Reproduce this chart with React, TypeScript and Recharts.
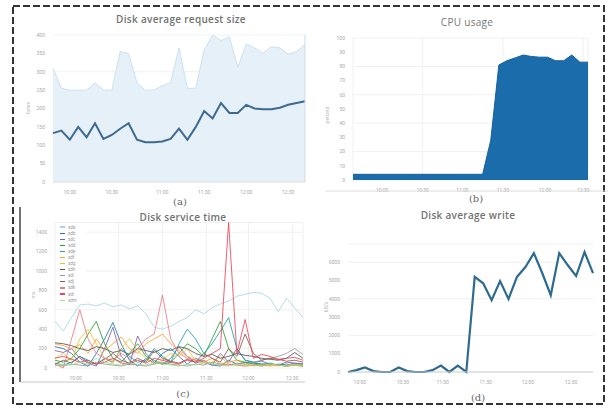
import React from 'react';
import { ComposedChart, AreaChart, LineChart, Area, Line, XAxis, YAxis, CartesianGrid, Legend } from 'recharts';

// ---------- (a) Disk average request size ----------
const aUpper = [310,255,250,250,250,270,250,250,355,350,270,250,250,262,270,365,255,255,360,400,385,395,312,375,365,350,368,365,348,355,375];
const aAvg = [133,140,115,150,122,160,117,128,145,160,115,108,108,110,117,145,115,150,193,173,215,188,188,210,200,198,198,202,210,215,220];
const aYTicks = [0,50,100,150,200,250,300,350,400];
const aXTicks = [2,7,13,18,23,28];
const aXLabels = ['10:00','10:30','11:00','11:30','12:00','12:30'];

// ---------- (b) CPU usage ----------
const cpu = [4,4,4,4,4,4,4,4,4,4,4,4,4,4,4,4,4,28,81,84,86,88,87,86.5,86.5,84,84,88,83,83];
const bYTicks = [0,10,20,30,40,50,60,70,80,90,100];
const bXTicks = [3.6,8.6,13.5,18.5,23.7,28.4];
const bXLabels = ['10:00','10:30','11:00','11:30','12:00','12:30'];

// ---------- (c) Disk service time ----------
const cNames = ['sda','sdb','sdc','sdd','sde','sdf','sdg','sdh','sdi','sdj','sdk','sdl','sdm'];
const cColors = ['#a9d4e6','#1f77b4','#7b5fb5','#2ca02c','#17a2a8','#ff9f2e','#e6c43a','#555555','#9a9a9a','#8c564b','#ec7a84','#ee4458','#98df8a'];
const cLightCyan = [480,380,520,650,660,640,670,630,650,610,640,560,420,400,430,480,520,600,560,620,660,690,740,760,780,770,720,580,720,620,520];
const cBlue = [220,200,150,60,20,150,300,470,250,80,20,100,50,150,200,120,40,100,60,30,20,80,40,60,50,40,30,40,30,50,40];
const cPurple = [180,160,200,100,50,20,200,420,120,30,330,150,60,40,100,220,120,50,80,30,150,60,200,80,60,70,40,30,60,50,40];
const cGreen = [80,60,100,200,350,480,250,100,60,150,250,120,80,40,60,150,250,200,120,300,480,200,80,60,40,30,40,30,20,30,20];
const cTeal = [50,30,60,120,80,40,100,60,200,120,60,80,200,120,60,250,400,300,150,250,380,520,200,80,60,40,50,30,40,30,40];
const cOrange = [250,230,200,240,150,300,180,250,320,200,150,250,300,350,250,180,120,80,60,100,40,60,80,40,30,30,20,30,20,30,20];
const cYellow = [100,150,80,300,400,250,100,50,200,300,180,100,40,80,150,120,200,80,40,60,120,40,30,20,30,20,30,20,30,40,30];
const cDarkGray = [260,250,230,200,180,220,200,160,180,140,200,180,160,200,180,220,200,150,120,140,100,120,150,130,120,100,90,80,100,160,100];
const cLightGray = [30,20,40,30,20,60,40,30,20,40,30,20,40,60,40,30,20,40,30,60,40,30,50,40,60,80,100,120,150,200,140];
const cBrown = [40,80,50,120,60,40,90,150,80,50,100,60,180,100,70,50,90,60,150,100,60,200,120,350,150,80,100,90,70,80,60];
const cSalmon = [40,0,300,600,300,150,100,80,150,100,200,300,350,750,300,150,100,80,60,40,30,40,30,20,30,20,40,30,20,30,20];
const cRed = [100,120,90,60,80,40,60,100,50,40,80,50,100,80,60,40,80,60,100,150,200,1500,150,500,100,140,120,90,100,110,80];
const cLightGreen = [20,40,30,60,40,100,60,40,30,50,40,30,60,40,30,20,40,30,60,40,30,20,40,30,20,30,40,30,20,30,20];
const cSeries = [cLightCyan,cBlue,cPurple,cGreen,cTeal,cOrange,cYellow,cDarkGray,cLightGray,cBrown,cSalmon,cRed,cLightGreen];
const cYTicks = [0,200,400,600,800,1000,1200,1400];
const cXTicks = [2.5,7.7,13,18.3,23.4,28.7];
const cXLabels = ['10:00','10:30','11:00','11:30','12:00','12:30'];

// ---------- (d) Disk average write ----------
const dWrite = [0,100,250,50,0,0,250,50,0,0,100,350,0,350,0,5200,4850,3930,4970,3990,5200,5740,6500,5400,4200,6500,5850,5250,6560,5410];
const dYTicks = [0,1000,2000,3000,4000,5000,6000];
const dXTicks = [1.4,6.5,11.2,16.3,21.3,26.4];
const dXLabels = ['10:00','10:30','11:00','11:30','12:00','12:30'];

const aData = aUpper.map((u, i) => ({ i, upper: u, avg: aAvg[i] }));
const bData = cpu.map((v, i) => ({ i, cpu: v }));
const cData = cLightCyan.map((_, i) => {
  const row: Record<string, number> = { i };
  cNames.forEach((n, k) => { row[n] = cSeries[k][i]; });
  return row;
});
const dData = dWrite.map((v, i) => ({ i, w: v }));

const tickStyle = { fontSize: 5, fill: '#aaa', fontFamily: 'Roboto, sans-serif' };
const fmt = (ticks: number[], labels: string[]) => (v: number) => {
  const k = ticks.indexOf(v);
  return k >= 0 ? labels[k] : '';
};

const titleStyle: React.CSSProperties = {
  fontFamily: '"Open Sans", sans-serif', fontSize: 10, fontWeight: 600, fill: '#727272', letterSpacing: 0.3,
};
const capStyle: React.CSSProperties = { fontFamily: '"DejaVu Serif", serif', fontSize: 10, fill: '#666' };

function LegendBox(props: any) {
  const payload = props.payload || [];
  return (
    <div style={{ width: 29, background: 'rgba(255,255,255,0.85)', padding: '1px 0' }}>
      {payload.map((p: any) => (
        <div key={p.value} style={{ display: 'flex', alignItems: 'center', height: 6.1 }}>
          <span style={{ display: 'inline-block', width: 5, height: 1.2, background: p.color, marginLeft: 2, marginRight: 3 }} />
          <span style={{ fontSize: 4.5, lineHeight: '5px', color: '#999', fontFamily: 'Roboto, sans-serif' }}>{p.value}</span>
        </div>
      ))}
    </div>
  );
}

export default function App() {
  return (
    <div style={{ position: 'absolute', left: 0, top: 0, width: 608, height: 410, background: '#fff', overflow: 'hidden' }}>
      {/* (a) */}
      <div style={{ position: 'absolute', left: 20, top: 25 }}>
        <ComposedChart width={290} height={172} data={aData} margin={{ top: 10, right: 5, bottom: 3, left: 11 }}>
          <CartesianGrid stroke="#eef2f5" vertical={false} />
          <XAxis dataKey="i" type="number" domain={[0, 30]} ticks={aXTicks} tickFormatter={fmt(aXTicks, aXLabels)}
            tick={tickStyle} tickLine={false} axisLine={{ stroke: '#e0e0e0' }} height={12} />
          <YAxis domain={[0, 400]} ticks={aYTicks} width={22} tick={tickStyle} tickLine={false} axisLine={false} />
          <Area dataKey="upper" type="linear" stroke="#cde1f1" strokeWidth={1} fill="#e5f0f9" fillOpacity={1} isAnimationActive={false} />
          <Line dataKey="avg" type="linear" stroke="#3f6a90" strokeWidth={2} dot={false} isAnimationActive={false} />
        </ComposedChart>
      </div>

      {/* (b) */}
      <div style={{ position: 'absolute', left: 320, top: 28 }}>
        <AreaChart width={275} height={165} data={bData} margin={{ top: 10, right: 7, bottom: 1, left: 11 }}>
          <CartesianGrid stroke="#f0f0f0" />
          <XAxis dataKey="i" type="number" domain={[0, 29]} ticks={bXTicks} tickFormatter={fmt(bXTicks, bXLabels)}
            tick={tickStyle} tickLine={false} axisLine={false} height={12} />
          <YAxis domain={[0, 100]} ticks={bYTicks} width={22} tick={tickStyle} tickLine={false} axisLine={false} />
          <Area dataKey="cpu" type="linear" stroke="#175f98" strokeWidth={1} fill="#1b6cab" fillOpacity={1} isAnimationActive={false} />
        </AreaChart>
      </div>

      {/* (c) */}
      <div style={{ position: 'absolute', left: 20, top: 212 }}>
        <LineChart width={290} height={170} data={cData} margin={{ top: 10.5, right: 7, bottom: 2, left: 13 }}>
          <CartesianGrid stroke="#f0f0f0" />
          <XAxis dataKey="i" type="number" domain={[0, 30]} ticks={cXTicks} tickFormatter={fmt(cXTicks, cXLabels)}
            tick={tickStyle} tickLine={false} axisLine={false} height={12} />
          <YAxis domain={[0, 1500]} ticks={cYTicks} width={22} tick={tickStyle} tickLine={false} axisLine={false} />
          {cNames.map((n, k) => (
            <Line key={n} dataKey={n} type="linear" stroke={cColors[k]} strokeWidth={1} strokeOpacity={0.85} dot={false} isAnimationActive={false} />
          ))}
          <Legend layout="vertical" align="center" verticalAlign="middle"
            wrapperStyle={{ left: 38, top: 11, width: 30, height: 84 }} content={(p: any) => <LegendBox payload={p.payload} />} />
        </LineChart>
      </div>

      {/* (d) */}
      <div style={{ position: 'absolute', left: 315, top: 232 }}>
        <LineChart width={285} height={160} data={dData} margin={{ top: 12, right: 7, bottom: 8, left: 11 }}>
          <CartesianGrid stroke="#f0f0f0" vertical={false} />
          <XAxis dataKey="i" type="number" domain={[0, 29]} ticks={dXTicks} tickFormatter={fmt(dXTicks, dXLabels)}
            tick={tickStyle} tickLine={false} axisLine={{ stroke: '#cfcfcf' }} height={12} />
          <YAxis domain={[0, 7000]} ticks={dYTicks} width={22} tick={tickStyle} tickLine={false} axisLine={false} />
          <Line dataKey="w" type="linear" stroke="#2f6b8f" strokeWidth={2.2} dot={false} isAnimationActive={false} />
        </LineChart>
      </div>

      {/* overlay: frame, titles, captions */}
      <svg width={608} height={410} style={{ position: 'absolute', left: 0, top: 0, pointerEvents: 'none' }}>
        <rect x={13} y={6} width={591} height={398} fill="none" stroke="#333" strokeWidth={2} strokeDasharray="7 3" />
        <line x1={20} y1={207} x2={20} y2={382} stroke="#444" strokeWidth={1.5} />
        <line x1={20} y1={382} x2={305} y2={382} stroke="#c8c8c8" strokeWidth={1} />
        <line x1={325} y1={191} x2={608} y2={191} stroke="#dcdcdc" strokeWidth={1} />
        <line x1={305} y1={35} x2={305} y2={182} stroke="#cfdbe6" strokeWidth={1} />

        <text x={181} y={23} textAnchor="middle" style={titleStyle}>Disk average request size</text>
        <text x={467} y={26} textAnchor="middle" style={{ ...titleStyle, fontWeight: 400, fill: '#777' }}>CPU usage</text>
        <text x={183} y={221} textAnchor="middle" style={titleStyle}>Disk service time</text>
        <text x={468} y={219} textAnchor="middle" style={titleStyle}>Disk average write</text>

        <text x={180} y={205} textAnchor="middle" style={capStyle}>(a)</text>
        <text x={476} y={202} textAnchor="middle" style={capStyle}>(b)</text>
        <text x={183} y={397} textAnchor="middle" style={capStyle}>(c)</text>
        <text x={478} y={401} textAnchor="middle" style={capStyle}>(d)</text>

        <text x={30} y={108} textAnchor="middle" transform="rotate(-90 30 108)" style={{ fontSize: 5, fill: '#bbb', fontFamily: 'Roboto' }}>bytes</text>
        <text x={329} y={115} textAnchor="middle" transform="rotate(-90 329 115)" style={{ fontSize: 5, fill: '#bbb', fontFamily: 'Roboto' }}>percent</text>
        <text x={35} y={295} textAnchor="middle" transform="rotate(-90 35 295)" style={{ fontSize: 5, fill: '#bbb', fontFamily: 'Roboto' }}>ms</text>
        <text x={328} y={307} textAnchor="middle" transform="rotate(-90 328 307)" style={{ fontSize: 5, fill: '#bbb', fontFamily: 'Roboto' }}>KB/s</text>
      </svg>
    </div>
  );
}
